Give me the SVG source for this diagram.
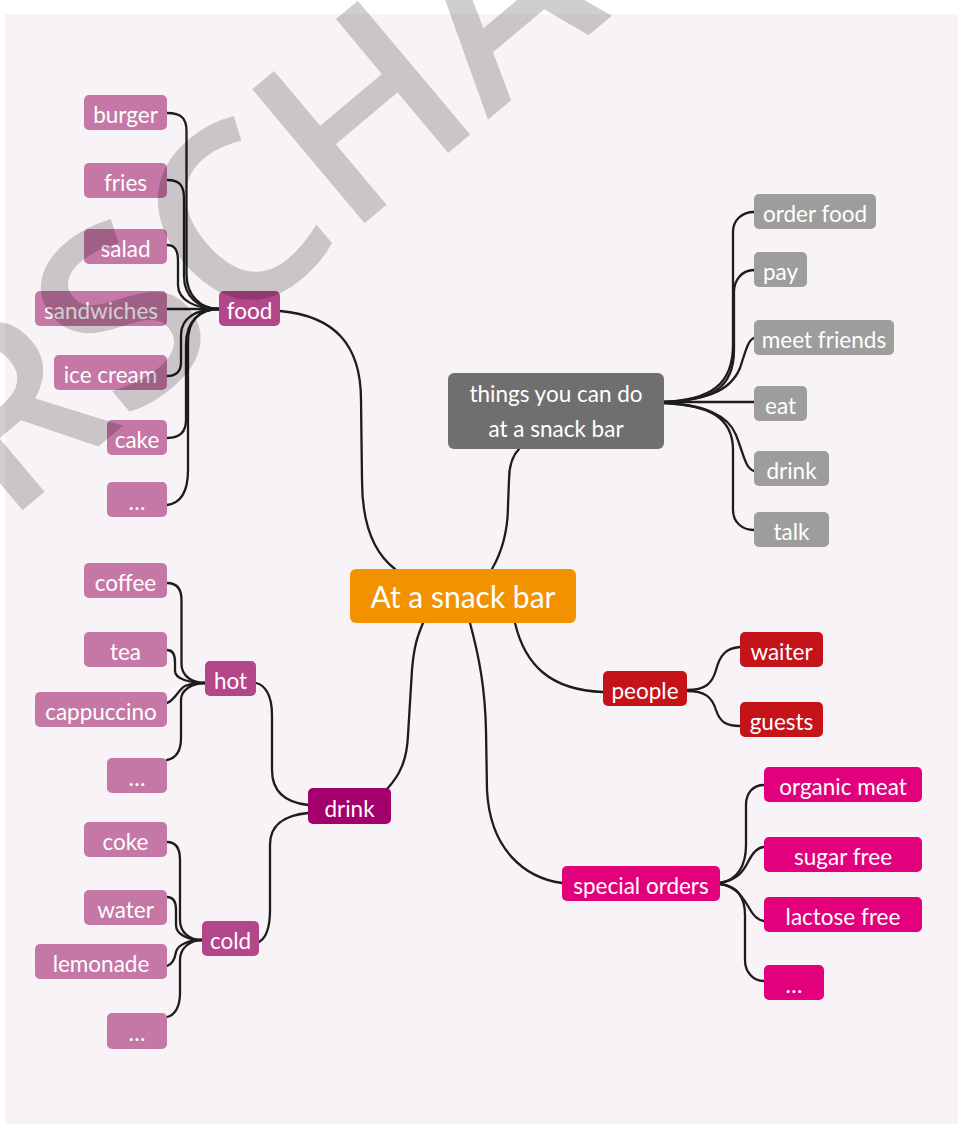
<svg xmlns="http://www.w3.org/2000/svg" width="958" height="1124" viewBox="0 0 958 1124">
<style>
.bg{fill:#f8f3f7}
.ln{fill:none;stroke:#1d1d1b;stroke-width:2.3;stroke-linecap:round}
text{font-family:Lato,"Liberation Sans",sans-serif;fill:#fff;text-anchor:middle;font-size:22.5px}
.c1{fill:#c577a6}
.p1{fill:#b4468a}
.dk{fill:#a3006b}
.g0{fill:#706f6f}
.g1{fill:#9d9d9c}
.rd{fill:#c5131a}
.mg{fill:#e3007d}
.ctr{fill:#f39200}
.wm{font-family:"Open Sans",sans-serif;font-weight:600;font-size:245px;fill:#000;fill-opacity:0.19;text-anchor:start}
</style>
<rect class="bg" x="5" y="14" width="953" height="1110"/>
<g id="connectors">
<path class="ln" d="M167,113 C182,113 186.5,119 186.5,131 L186.5,274 C186.5,295 200,309 219,309"/>
<path class="ln" d="M167,180 C180,180 184,186 184,198 L184,276 C184,297 199,309 219,309"/>
<path class="ln" d="M167,245 C175,245 178,250 178,261 L178,285 C178,300 195,309 219,309"/>
<path class="ln" d="M167,309 L219,309"/>
<path class="ln" d="M167,376 C176,376 181,371 181,362 L181,335 C181,318 196,309 219,309"/>
<path class="ln" d="M167,438 C180,438 186,432 186,420 L186,345 C186,322 199,309 219,309"/>
<path class="ln" d="M167,505 C182,503 188,490 188,470 L188,342 C188,320 200,309 219,309"/>
<path class="ln" d="M280,311 C335,316 361,345 361,400 L362,480 C362,530 378,556 395,569"/>
<path class="ln" d="M492,569 C503,550 508,530 508,505 L509,480 C509,465 512,456 519,449"/>
<path class="ln" d="M664,402 C710,400 733,385 733,345 L733,232 C733,220 742,212 754,212"/>
<path class="ln" d="M664,402 C712,401 734,388 734,350 L734,292 C734,280 742,270 754,270"/>
<path class="ln" d="M664,402 C705,400 730,392 740,368 C746,350 748,340 754,338"/>
<path class="ln" d="M664,402 L754,402"/>
<path class="ln" d="M664,403 C705,405 728,415 736,435 C744,455 745,468 754,471"/>
<path class="ln" d="M664,403 C710,405 733,418 733,450 L733,510 C733,522 742,530 754,530"/>
<path class="ln" d="M167,583 C177,583 181.5,589 181.5,600 L181.5,664 C181.5,676 192,683 205,683"/>
<path class="ln" d="M167,650 C172,650 175,654 175,662 L175,671 C175,679 190,683 205,683"/>
<path class="ln" d="M167,703 C175,700 178,690 185,686 C190,684 197,683 205,683"/>
<path class="ln" d="M167,760 C177,758 181,750 181,738 L181,700 C181,690 192,683 205,683"/>
<path class="ln" d="M167,842 C176,842 180,848 180,860 L180,920 C180,933 190,940 202,940"/>
<path class="ln" d="M167,897 C173,897 176,901 176,910 L176,925 C176,935 189,940 202,940"/>
<path class="ln" d="M167,966 C173,964 175,958 176,952 C178,944 190,940 202,940"/>
<path class="ln" d="M167,1017 C176,1015 180,1005 180,993 L180,960 C180,948 190,940 202,940"/>
<path class="ln" d="M256,683 C265,685 272,695 272,715 L272,770 C272,795 290,803 308,805"/>
<path class="ln" d="M259,942 C266,938 270,928 270,910 L270,845 C270,822 288,815 308,813"/>
<path class="ln" d="M387,789 C400,775 407,760 408,735 L412,670 C414,645 418,635 423,623"/>
<path class="ln" d="M515,623 C525,665 550,690 603,692"/>
<path class="ln" d="M687,690 C705,690 712,684 716,670 C720,655 726,648 740,647"/>
<path class="ln" d="M687,691 C705,691 712,697 716,710 C720,722 726,726 740,726"/>
<path class="ln" d="M470,623 C480,660 485,690 486,730 L487,790 C490,850 525,878 562,883"/>
<path class="ln" d="M720,883 C738,880 746,865 746,845 L746,805 C746,793 753,785 764,785"/>
<path class="ln" d="M720,883 C738,880 744,870 748,862 C752,854 757,847 764,847"/>
<path class="ln" d="M720,884 C735,886 742,896 748,906 C753,915 757,920 764,921"/>
<path class="ln" d="M720,884 C737,886 745,897 745,915 L745,960 C745,972 753,981 764,981"/>
</g>
<g id="center"><rect class="ctr" x="350" y="569" width="226" height="54" rx="6"/><text x="463" y="608" style="font-size:30px">At a snack bar</text></g>
<g id="food"><rect class="p1" x="219" y="291" width="61" height="35" rx="5"/><text x="249.5" y="319">food</text></g>
<g id="burger"><rect class="c1" x="84" y="95" width="83" height="35" rx="5"/><text x="125.5" y="123">burger</text></g>
<g id="fries"><rect class="c1" x="84" y="163" width="83" height="35" rx="5"/><text x="125.5" y="191">fries</text></g>
<g id="salad"><rect class="c1" x="84" y="229" width="83" height="35" rx="5"/><text x="125.5" y="257">salad</text></g>
<g id="sandwiches"><rect class="c1" x="35" y="291" width="132" height="35" rx="5"/><text x="101" y="319">sandwiches</text></g>
<g id="icecream"><rect class="c1" x="54" y="355" width="113" height="35" rx="5"/><text x="110.5" y="383">ice cream</text></g>
<g id="cake"><rect class="c1" x="107" y="420" width="60" height="35" rx="5"/><text x="137" y="448">cake</text></g>
<g id="food-more"><rect class="c1" x="107" y="482" width="60" height="35" rx="5"/><text x="137" y="510">…</text></g>
<g id="things"><rect class="g0" x="448" y="373" width="216" height="76" rx="6"/><text x="556" y="402">things you can do</text><text x="556" y="437">at a snack bar</text></g>
<g id="orderfood"><rect class="g1" x="754" y="194" width="122" height="35" rx="5"/><text x="815" y="222">order food</text></g>
<g id="pay"><rect class="g1" x="754" y="252" width="53" height="35" rx="5"/><text x="780.5" y="280">pay</text></g>
<g id="meetfriends"><rect class="g1" x="754" y="320" width="140" height="35" rx="5"/><text x="824" y="348">meet friends</text></g>
<g id="eat"><rect class="g1" x="754" y="386" width="53" height="35" rx="5"/><text x="780.5" y="414">eat</text></g>
<g id="drink-do"><rect class="g1" x="754" y="451" width="75" height="35" rx="5"/><text x="791.5" y="479">drink</text></g>
<g id="talk"><rect class="g1" x="754" y="512" width="75" height="35" rx="5"/><text x="791.5" y="540">talk</text></g>
<g id="drink"><rect class="dk" x="308" y="788" width="83" height="36" rx="5"/><text x="349.5" y="817">drink</text></g>
<g id="hot"><rect class="p1" x="205" y="661" width="51" height="35" rx="5"/><text x="230.5" y="689">hot</text></g>
<g id="cold"><rect class="p1" x="202" y="921" width="57" height="35" rx="5"/><text x="230.5" y="949">cold</text></g>
<g id="coffee"><rect class="c1" x="84" y="563" width="83" height="35" rx="5"/><text x="125.5" y="591">coffee</text></g>
<g id="tea"><rect class="c1" x="84" y="632" width="83" height="35" rx="5"/><text x="125.5" y="660">tea</text></g>
<g id="cappuccino"><rect class="c1" x="35" y="692" width="132" height="35" rx="5"/><text x="101" y="720">cappuccino</text></g>
<g id="hot-more"><rect class="c1" x="107" y="758" width="60" height="35" rx="5"/><text x="137" y="786">…</text></g>
<g id="coke"><rect class="c1" x="84" y="822" width="83" height="35" rx="5"/><text x="125.5" y="850">coke</text></g>
<g id="water"><rect class="c1" x="84" y="890" width="83" height="35" rx="5"/><text x="125.5" y="918">water</text></g>
<g id="lemonade"><rect class="c1" x="35" y="944" width="132" height="35" rx="5"/><text x="101" y="972">lemonade</text></g>
<g id="cold-more"><rect class="c1" x="107" y="1013" width="60" height="36" rx="5"/><text x="137" y="1041">…</text></g>
<g id="people"><rect class="rd" x="603" y="671" width="84" height="35" rx="5"/><text x="645" y="699">people</text></g>
<g id="waiter"><rect class="rd" x="740" y="632" width="83" height="35" rx="5"/><text x="781.5" y="660">waiter</text></g>
<g id="guests"><rect class="rd" x="740" y="702" width="83" height="35" rx="5"/><text x="781.5" y="730">guests</text></g>
<g id="special"><rect class="mg" x="562" y="866" width="158" height="35" rx="5"/><text x="641" y="894">special orders</text></g>
<g id="organic"><rect class="mg" x="764" y="767" width="158" height="35" rx="5"/><text x="843" y="795">organic meat</text></g>
<g id="sugar"><rect class="mg" x="764" y="837" width="158" height="35" rx="5"/><text x="843" y="865">sugar free</text></g>
<g id="lactose"><rect class="mg" x="764" y="897" width="158" height="35" rx="5"/><text x="843" y="925">lactose free</text></g>
<g id="special-more"><rect class="mg" x="764" y="965" width="60" height="35" rx="5"/><text x="794" y="993">…</text></g>
<text class="wm" transform="translate(5,525) rotate(-40)">RSCHA</text>
</svg>
